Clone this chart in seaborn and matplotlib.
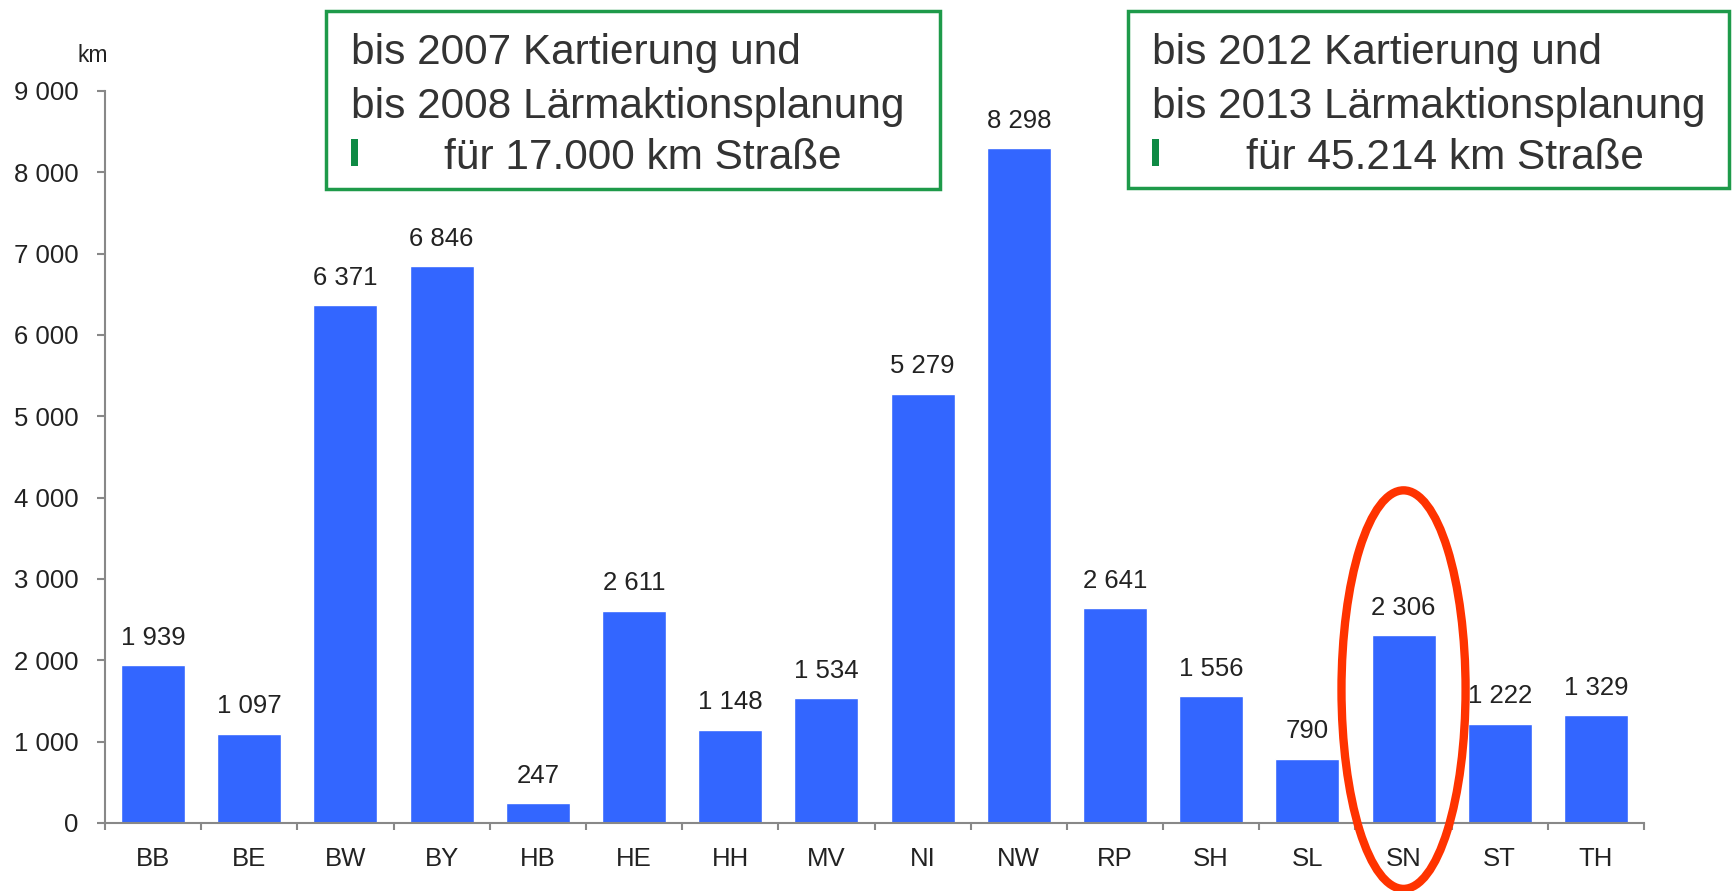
import matplotlib
matplotlib.use("Agg")
import seaborn as sns
import numpy as np
import matplotlib.pyplot as plt
from matplotlib.patches import Rectangle, Ellipse

# Länge der kartierten Straßen je Bundesland (km)
laender = ["BB", "BE", "BW", "BY", "HB", "HE", "HH", "MV",
           "NI", "NW", "RP", "SH", "SL", "SN", "ST", "TH"]
km = [1939, 1097, 6371, 6846, 247, 2611, 1148, 1534,
      5279, 8298, 2641, 1556, 790, 2306, 1222, 1329]
y_ticks = [0, 1000, 2000, 3000, 4000, 5000, 6000, 7000, 8000, 9000]

box1_lines = ["bis 2007 Kartierung und", "bis 2008 Lärmaktionsplanung", "für 17.000 km Straße"]
box2_lines = ["bis 2012 Kartierung und", "bis 2013 Lärmaktionsplanung", "für 45.214 km Straße"]

sns.set_style("white")
plt.rcParams['font.family'] = ['Liberation Sans', 'DejaVu Sans']

W, H = 1732, 891
fig = plt.figure(figsize=(W / 100, H / 100), dpi=100)


def px(x, y):
    # pixel position (from top left) -> figure fraction
    return x / W, 1 - y / H


ax = fig.add_axes([105 / W, 1 - 823 / H, (1644 - 105) / W, (823 - 91) / H])

sns.barplot(x=laender, y=km, color="#3366FF", saturation=1, width=0.665, ax=ax)

def fmt(v):
    return f"{v:,}".replace(",", " ")

ax.bar_label(ax.containers[0], labels=[fmt(v) for v in km], padding=11,
             fontsize=18.5, color="#222222")

ax.set_ylim(0, 9000)
ax.set_xlim(-0.5, len(laender) - 0.5)
ax.set_yticks(y_ticks)
ax.set_yticklabels([fmt(v) for v in y_ticks], fontsize=18.5, color="#222222")
ax.tick_params(axis="x", which="major", labelsize=18.5, labelcolor="#222222",
               bottom=True, length=0, pad=17)
ax.set_xticks(np.arange(-0.5, len(laender)), minor=True)
ax.tick_params(axis="x", which="minor", bottom=True, length=5, width=1.5,
               color="#888888", direction="out")
ax.tick_params(axis="y", left=True, length=6, width=1.5, color="#888888",
               direction="out", pad=13)
ax.set_xlabel("")
ax.set_ylabel("")
for s in ["top", "right"]:
    ax.spines[s].set_visible(False)
for s in ["left", "bottom"]:
    ax.spines[s].set_color("#888888")
    ax.spines[s].set_linewidth(1.5)

fig.text(*px(93, 62), "km", fontsize=16.5, color="#222222", ha="center", va="baseline")

# grüne Textkästen
green = "#1E9A4A"


def info_box(x0, x1, y0, y1, lines, tx, tx3):
    fx0, fy1 = px(x0, y1)
    fig.patches.append(Rectangle((fx0, fy1), (x1 - x0) / W, (y1 - y0) / H,
                                 transform=fig.transFigure, fill=False,
                                 edgecolor=green, linewidth=2.5))
    bases = [64, 118, 169]
    for i, line in enumerate(lines):
        x = tx3 if i == 2 else tx
        fig.text(*px(x, bases[i]), line, fontsize=30.5, color="#333333", va="baseline")
    mx, my = px(tx, 166)
    fig.patches.append(Rectangle((mx, my), 7 / W, 27 / H, transform=fig.transFigure,
                                 facecolor="#0E8A44", edgecolor="none"))


info_box(326, 940, 11, 189, box1_lines, 351, 444)
info_box(1128, 1729, 11, 188, box2_lines, 1152, 1246)

# rote Ellipse um SN
sn = laender.index("SN")
ax.add_patch(Ellipse((sn, 1640), 1.29, 4900, fill=False, edgecolor="#FF3300",
                     linewidth=6, clip_on=False, zorder=5))

fig.savefig("out.png", dpi=100)
